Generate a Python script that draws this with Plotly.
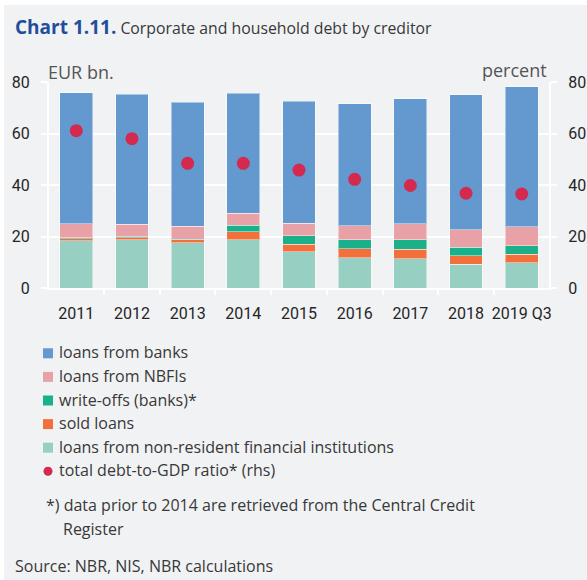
import plotly.graph_objects as go

# Corporate and household debt by creditor, EUR bn. (stacked) and debt-to-GDP ratio, %
years = ["2011", "2012", "2013", "2014", "2015", "2016", "2017", "2018", "2019 Q3"]
non_resident = [18.3, 18.7, 17.5, 18.8, 14.0, 11.7, 11.4, 9.3, 9.9]
sold_loans = [0.9, 0.9, 1.3, 3.1, 3.0, 3.5, 3.7, 3.3, 3.2]
write_offs = [0.3, 0.3, 0.1, 2.5, 3.3, 3.5, 3.6, 3.3, 3.3]
nbfi_loans = [5.4, 4.9, 5.0, 4.6, 4.9, 5.5, 6.2, 6.7, 7.3]
bank_loans = [51.0, 50.4, 48.2, 46.6, 47.3, 47.4, 48.6, 52.4, 54.4]
debt_to_gdp = [61.1, 58.0, 48.4, 48.4, 45.8, 42.2, 39.8, 36.8, 36.5]

BG = "#F1F2F4"
TEXT = "#383838"
TEXT_FONT = "Open Sans, Noto Sans, sans-serif"
TICK_FONT = "Roboto, Liberation Sans, sans-serif"
DOT_COLOR = "#D42A4F"
DOT_NAME = "total debt-to-GDP ratio* (rhs)"

# stacking order, bottom to top
series = [
    ("loans from non-resident financial institutions", non_resident, "#97D0C2"),
    ("sold loans", sold_loans, "#F2703C"),
    ("write-offs (banks)*", write_offs, "#19B08A"),
    ("loans from NBFIs", nbfi_loans, "#E8A2A7"),
    ("loans from banks", bank_loans, "#6399CF"),
]

# plot area in pixels
L, R_EDGE, TOP, BOTTOM = 49, 549, 82, 288
W, H = R_EDGE - L, BOTTOM - TOP

def px_x(px):
    return (px - L) / W

def px_y(py):
    return (BOTTOM - py) / H

fig = go.Figure()
for name, vals, color in series:
    fig.add_trace(go.Bar(
        x=years, y=vals, name=name,
        marker=dict(color=color, line=dict(color="rgba(255,255,255,0.45)", width=1)),
    ))

fig.add_trace(go.Scatter(
    x=years, y=debt_to_gdp, name=DOT_NAME,
    mode="markers", yaxis="y2",
    marker=dict(color=DOT_COLOR, size=13),
))

tick_font = dict(family=TICK_FONT, size=16, color="#262626")

fig.update_layout(
    width=587, height=580,
    margin=dict(l=L, r=587 - R_EDGE, t=TOP, b=580 - BOTTOM),
    paper_bgcolor="white",
    plot_bgcolor="rgba(0,0,0,0)",
    barmode="stack",
    bargap=0.41,
    showlegend=False,
    xaxis=dict(
        type="category", range=[-0.49, 8.49], automargin=False, tickangle=0,
        tickson="boundaries", ticks="outside", ticklen=5, tickcolor="white", tickwidth=2,
        showgrid=False, showline=True, linecolor="white", linewidth=2,
        tickfont=tick_font, ticklabelstandoff=10,
    ),
    yaxis=dict(
        range=[0, 80], tickvals=[0, 20, 40, 60, 80], automargin=False,
        ticks="outside", ticklen=6, tickcolor="white", tickwidth=2,
        showgrid=True, gridcolor="white", gridwidth=2,
        showline=True, linecolor="white", linewidth=2,
        zeroline=False, ticklabelstandoff=8,
        tickfont=tick_font,
    ),
    yaxis2=dict(
        range=[0, 80], tickvals=[0, 20, 40, 60, 80], overlaying="y", side="right",
        automargin=False,
        ticks="outside", ticklen=6, tickcolor="white", tickwidth=2,
        showgrid=False, showline=True, linecolor="white", linewidth=2,
        zeroline=False, ticklabelstandoff=8,
        tickfont=tick_font,
    ),
)

# Panel background behind the whole chart
fig.add_shape(
    type="rect", xref="paper", yref="paper", layer="below",
    x0=px_x(4), x1=px_x(600), y0=px_y(590), y1=px_y(5),
    fillcolor=BG, line=dict(width=0),
)

# Legend block: swatches and labels, top entry first
legend_rows = [(name, color) for name, _, color in reversed(series)]
row_y0, row_step = 353.3, 23.6
for i, (name, color) in enumerate(legend_rows):
    cy = row_y0 + i * row_step
    fig.add_shape(type="rect", xref="paper", yref="paper",
                  x0=px_x(43), x1=px_x(53), y0=px_y(cy + 5), y1=px_y(cy - 5),
                  fillcolor=color, line=dict(width=0))
    fig.add_annotation(text=name, x=px_x(57), y=px_y(cy - 1),
                       xanchor="left", yanchor="middle")
cy = row_y0 + len(legend_rows) * row_step
fig.add_shape(type="circle", xref="paper", yref="paper",
              x0=px_x(43.5), x1=px_x(52.5), y0=px_y(cy + 4.5), y1=px_y(cy - 4.5),
              fillcolor=DOT_COLOR, line=dict(width=0))
fig.add_annotation(text=DOT_NAME, x=px_x(57), y=px_y(cy - 1),
                   xanchor="left", yanchor="middle")

annotations = [
    dict(text="<b><span style='color:#1F4E9C;font-size:19px'>Chart 1.11.</span></b>"
              " Corporate and household debt by creditor",
         x=px_x(13), y=px_y(27), font=dict(family=TEXT_FONT, size=15.8, color=TEXT)),
    dict(text="EUR bn.", x=px_x(46), y=px_y(72),
         font=dict(family=TEXT_FONT, size=18, color="#555555")),
    dict(text="percent", x=px_x(549), y=px_y(70), xanchor="right",
         font=dict(family=TEXT_FONT, size=18, color="#555555")),
    dict(text="*) data prior to 2014 are retrieved from the Central Credit",
         x=px_x(44), y=px_y(505)),
    dict(text="Register", x=px_x(61), y=px_y(529)),
    dict(text="Source: NBR, NIS, NBR calculations", x=px_x(13), y=px_y(566)),
]
for a in annotations:
    a.setdefault("xanchor", "left")
    fig.add_annotation(xref="paper", yref="paper", showarrow=False, yanchor="middle", **a)

fig.update_annotations(xref="paper", yref="paper", showarrow=False)
for ann in fig.layout.annotations:
    if ann.font.family is None:
        ann.font = dict(family=TEXT_FONT, size=16, color=TEXT)

fig.write_html("out.html")
